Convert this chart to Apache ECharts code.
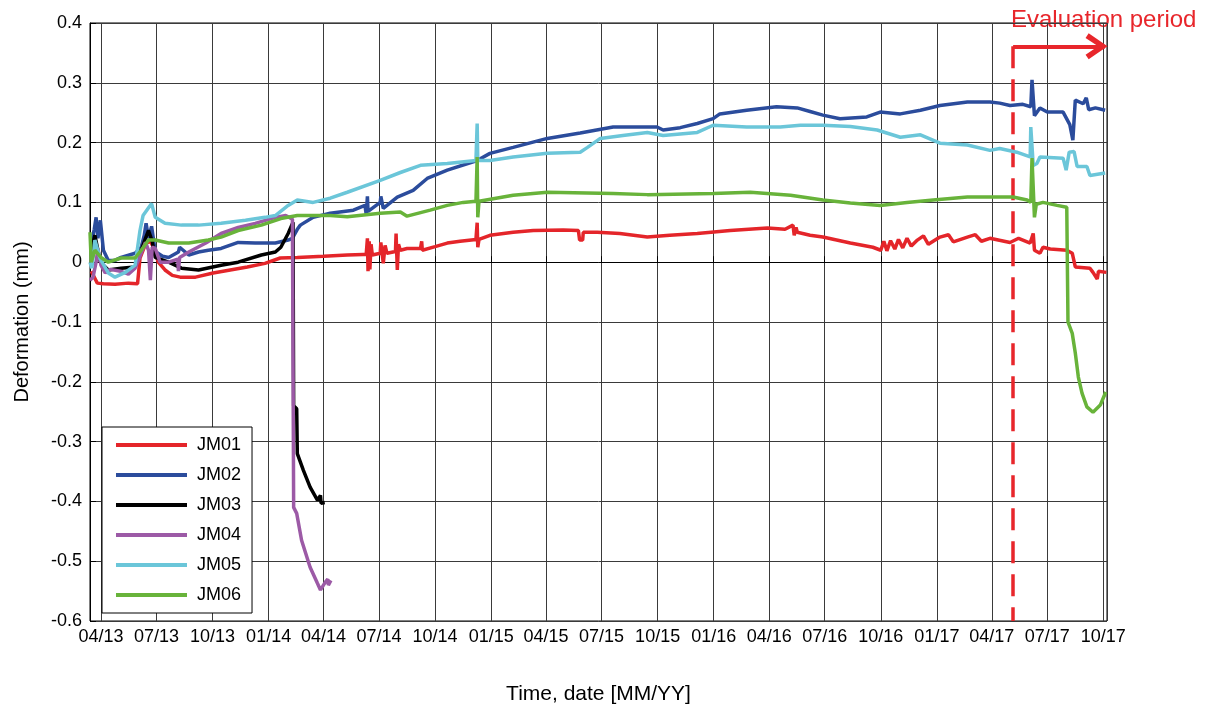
<!DOCTYPE html>
<html>
<head>
<meta charset="utf-8">
<script src="https://cdn.jsdelivr.net/npm/echarts@6/dist/echarts.min.js"></script>
<style>
  html, body { margin: 0; padding: 0; background: #ffffff; }
  #chart { width: 1205px; height: 711px; }
</style>
</head>
<body>
<div id="chart"></div>
<script>
// Joint meter readings, deformation in mm, [date, value]
const seriesNames = ['JM01', 'JM02', 'JM03', 'JM04', 'JM05', 'JM06'];
const seriesColors = ['#e4252a', '#2b4c9c', '#000000', '#9c5aa6', '#6bc6d9', '#68b33a'];

const JM01 = [
  ['2013-03-16', -0.015], ['2013-03-26', -0.035], ['2013-04-05', -0.036], ['2013-04-24', -0.037],
  ['2013-05-16', -0.035], ['2013-05-31', -0.036], ['2013-06-04', 0.007], ['2013-06-09', 0.02],
  ['2013-06-14', 0.032], ['2013-06-21', 0.035], ['2013-06-26', 0.025], ['2013-07-04', 0.0],
  ['2013-07-15', -0.013], ['2013-07-27', -0.022], ['2013-08-09', -0.025], ['2013-09-03', -0.025],
  ['2013-10-02', -0.018], ['2013-10-30', -0.013], ['2013-11-27', -0.008], ['2013-12-26', -0.002],
  ['2014-01-20', 0.007], ['2014-02-17', 0.008], ['2014-04-01', 0.01], ['2014-05-10', 0.012],
  ['2014-06-05', 0.013], ['2014-06-10', 0.013], ['2014-06-12', 0.04], ['2014-06-13', -0.015],
  ['2014-06-15', 0.035], ['2014-06-16', -0.012], ['2014-06-18', 0.03], ['2014-06-20', 0.012],
  ['2014-07-03', 0.015], ['2014-07-04', 0.033], ['2014-07-08', -0.002], ['2014-07-11', 0.028],
  ['2014-07-14', 0.015], ['2014-07-28', 0.018], ['2014-07-29', 0.048], ['2014-07-31', -0.013],
  ['2014-08-02', 0.03], ['2014-08-05', 0.02], ['2014-08-16', 0.023], ['2014-09-07', 0.023],
  ['2014-09-09', 0.035], ['2014-09-10', 0.02], ['2014-10-01', 0.026], ['2014-10-21', 0.032],
  ['2014-11-11', 0.035], ['2014-12-07', 0.038], ['2014-12-09', 0.066], ['2014-12-10', 0.025],
  ['2014-12-12', 0.038], ['2014-12-30', 0.045], ['2015-02-06', 0.05], ['2015-03-11', 0.053],
  ['2015-04-29', 0.054], ['2015-05-24', 0.053], ['2015-05-26', 0.037], ['2015-05-31', 0.037],
  ['2015-06-01', 0.05], ['2015-06-24', 0.05], ['2015-07-31', 0.048], ['2015-09-14', 0.042],
  ['2015-10-21', 0.045], ['2015-12-05', 0.048], ['2016-01-28', 0.053], ['2016-03-29', 0.057],
  ['2016-04-27', 0.055], ['2016-05-10', 0.062], ['2016-05-12', 0.045], ['2016-05-15', 0.058],
  ['2016-05-17', 0.05], ['2016-06-07', 0.045], ['2016-06-28', 0.042], ['2016-08-12', 0.032],
  ['2016-09-18', 0.025], ['2016-10-01', 0.02], ['2016-10-06', 0.035], ['2016-10-11', 0.019],
  ['2016-10-17', 0.036], ['2016-10-24', 0.022], ['2016-10-30', 0.038], ['2016-11-06', 0.024],
  ['2016-11-13', 0.04], ['2016-11-20', 0.027], ['2016-11-30', 0.037], ['2016-12-10', 0.044],
  ['2016-12-18', 0.03], ['2017-01-06', 0.042], ['2017-01-20', 0.046], ['2017-01-28', 0.034],
  ['2017-02-20', 0.042], ['2017-03-05', 0.046], ['2017-03-15', 0.035], ['2017-03-29', 0.04],
  ['2017-05-01', 0.033], ['2017-05-15', 0.04], ['2017-06-03', 0.032], ['2017-06-08', 0.048],
  ['2017-06-10', 0.02], ['2017-06-19', 0.015], ['2017-06-24', 0.025], ['2017-07-06', 0.022],
  ['2017-08-02', 0.02], ['2017-08-11', 0.015], ['2017-08-16', -0.008], ['2017-09-09', -0.01],
  ['2017-09-14', -0.017], ['2017-09-21', -0.028], ['2017-09-23', -0.015], ['2017-10-06', -0.017]
];

const JM02 = [
  ['2013-03-16', 0.03], ['2013-03-21', 0.055], ['2013-03-24', 0.075], ['2013-03-27', 0.04],
  ['2013-03-31', 0.07], ['2013-04-05', 0.02], ['2013-04-13', 0.003], ['2013-04-24', 0.003],
  ['2013-05-04', 0.008], ['2013-05-27', 0.015], ['2013-06-06', 0.025], ['2013-06-11', 0.045],
  ['2013-06-14', 0.065], ['2013-06-18', 0.04], ['2013-06-23', 0.06], ['2013-06-29', 0.018],
  ['2013-07-11', 0.01], ['2013-07-21', 0.008], ['2013-08-06', 0.017], ['2013-08-08', 0.025],
  ['2013-08-23', 0.012], ['2013-09-08', 0.017], ['2013-09-24', 0.02], ['2013-10-15', 0.023],
  ['2013-11-12', 0.033], ['2013-12-10', 0.032], ['2014-01-12', 0.032], ['2014-02-02', 0.037],
  ['2014-02-09', 0.04], ['2014-02-17', 0.055], ['2014-02-22', 0.062], ['2014-03-15', 0.075],
  ['2014-04-12', 0.082], ['2014-05-20', 0.087], ['2014-06-08', 0.095], ['2014-06-10', 0.08],
  ['2014-06-12', 0.11], ['2014-06-13', 0.085], ['2014-07-03', 0.1], ['2014-07-04', 0.11],
  ['2014-07-08', 0.09], ['2014-07-31', 0.109], ['2014-08-26', 0.12], ['2014-09-18', 0.14],
  ['2014-10-21', 0.154], ['2014-12-09', 0.17], ['2014-12-30', 0.182], ['2015-02-06', 0.192],
  ['2015-04-03', 0.207], ['2015-05-27', 0.216], ['2015-07-20', 0.226], ['2015-09-03', 0.226],
  ['2015-09-30', 0.226], ['2015-10-10', 0.221], ['2015-11-07', 0.225], ['2015-12-05', 0.232],
  ['2015-12-31', 0.24], ['2016-01-11', 0.248], ['2016-02-24', 0.254], ['2016-04-13', 0.26],
  ['2016-05-17', 0.258], ['2016-06-07', 0.252], ['2016-06-28', 0.246], ['2016-07-26', 0.24],
  ['2016-09-08', 0.243], ['2016-09-30', 0.251], ['2016-11-02', 0.248], ['2016-12-05', 0.254],
  ['2017-01-06', 0.262], ['2017-02-20', 0.268], ['2017-03-29', 0.268], ['2017-04-14', 0.266],
  ['2017-05-01', 0.262], ['2017-05-22', 0.264], ['2017-06-04', 0.26], ['2017-06-06', 0.305],
  ['2017-06-10', 0.245], ['2017-06-19', 0.258], ['2017-07-01', 0.251], ['2017-07-27', 0.251],
  ['2017-08-07', 0.23], ['2017-08-12', 0.204], ['2017-08-16', 0.271], ['2017-08-29', 0.265],
  ['2017-09-03', 0.275], ['2017-09-07', 0.255], ['2017-09-18', 0.258], ['2017-10-04', 0.254]
];

const JM03 = [
  ['2013-03-16', 0.02], ['2013-03-22', 0.045], ['2013-03-31', 0.0], ['2013-04-13', -0.013],
  ['2013-05-04', -0.01], ['2013-05-27', -0.008], ['2013-06-06', 0.02], ['2013-06-13', 0.04],
  ['2013-06-18', 0.053], ['2013-06-24', 0.035], ['2013-06-29', 0.008], ['2013-07-21', 0.0],
  ['2013-08-11', -0.01], ['2013-09-08', -0.013], ['2013-10-15', -0.005], ['2013-11-12', 0.0],
  ['2013-12-20', 0.012], ['2014-01-12', 0.017], ['2014-01-21', 0.025], ['2014-02-02', 0.048],
  ['2014-02-10', 0.067], ['2014-02-11', -0.24], ['2014-02-16', -0.245], ['2014-02-17', -0.32],
  ['2014-02-27', -0.348], ['2014-03-10', -0.376], ['2014-03-22', -0.398], ['2014-03-27', -0.39],
  ['2014-03-28', -0.403], ['2014-04-03', -0.402]
];

const JM04 = [
  ['2013-03-14', -0.03], ['2013-03-19', -0.025], ['2013-03-24', 0.0], ['2013-03-27', 0.023],
  ['2013-04-01', -0.005], ['2013-04-08', -0.018], ['2013-04-16', -0.012], ['2013-05-03', -0.015],
  ['2013-05-16', -0.02], ['2013-05-27', -0.01], ['2013-06-04', 0.01], ['2013-06-13', 0.033],
  ['2013-06-18', 0.02], ['2013-06-21', -0.03], ['2013-06-24', 0.025], ['2013-06-29', 0.023],
  ['2013-07-07', 0.0], ['2013-07-21', 0.0], ['2013-08-05', 0.005], ['2013-08-06', -0.015],
  ['2013-08-08', 0.008], ['2013-08-23', 0.017], ['2013-09-20', 0.032], ['2013-10-15', 0.048],
  ['2013-11-12', 0.058], ['2013-12-10', 0.065], ['2014-01-12', 0.075], ['2014-01-29', 0.078],
  ['2014-02-09', 0.072], ['2014-02-10', 0.07], ['2014-02-11', -0.41], ['2014-02-16', -0.42],
  ['2014-02-24', -0.465], ['2014-03-10', -0.51], ['2014-03-22', -0.537], ['2014-03-27', -0.548],
  ['2014-03-30', -0.545], ['2014-04-04', -0.535], ['2014-04-08', -0.53], ['2014-04-09', -0.54],
  ['2014-04-13', -0.532]
];

const JM05 = [
  ['2013-03-14', 0.0], ['2013-03-17', -0.01], ['2013-03-22', 0.037], ['2013-03-31', 0.005],
  ['2013-04-13', -0.018], ['2013-04-24', -0.025], ['2013-05-11', -0.017], ['2013-05-27', -0.005],
  ['2013-06-04', 0.053], ['2013-06-09', 0.078], ['2013-06-16', 0.088], ['2013-06-23', 0.098],
  ['2013-06-29', 0.075], ['2013-07-15', 0.065], ['2013-08-11', 0.062], ['2013-09-08', 0.062],
  ['2013-10-15', 0.065], ['2013-11-24', 0.07], ['2013-12-26', 0.075], ['2014-01-12', 0.078],
  ['2014-02-02', 0.095], ['2014-02-17', 0.104], ['2014-03-15', 0.1], ['2014-04-12', 0.107],
  ['2014-05-10', 0.117], ['2014-07-03', 0.137], ['2014-08-05', 0.15], ['2014-09-07', 0.162],
  ['2014-10-21', 0.165], ['2014-12-07', 0.17], ['2014-12-09', 0.232], ['2014-12-10', 0.17],
  ['2014-12-30', 0.17], ['2015-02-06', 0.176], ['2015-04-03', 0.182], ['2015-05-27', 0.184],
  ['2015-06-08', 0.192], ['2015-06-29', 0.207], ['2015-08-05', 0.212], ['2015-09-14', 0.217],
  ['2015-10-10', 0.212], ['2015-12-05', 0.217], ['2015-12-31', 0.229], ['2016-02-24', 0.226],
  ['2016-04-19', 0.226], ['2016-05-22', 0.229], ['2016-06-28', 0.229], ['2016-08-12', 0.227],
  ['2016-09-25', 0.221], ['2016-11-02', 0.209], ['2016-12-05', 0.213], ['2017-01-06', 0.199],
  ['2017-02-20', 0.196], ['2017-03-29', 0.187], ['2017-04-14', 0.19], ['2017-05-12', 0.184],
  ['2017-06-03', 0.176], ['2017-06-04', 0.226], ['2017-06-08', 0.162], ['2017-06-14', 0.165],
  ['2017-06-19', 0.176], ['2017-07-27', 0.174], ['2017-08-01', 0.154], ['2017-08-06', 0.184],
  ['2017-08-14', 0.185], ['2017-08-19', 0.16], ['2017-09-04', 0.16], ['2017-09-09', 0.145],
  ['2017-10-04', 0.149]
];

const JM06 = [
  ['2013-03-14', 0.05], ['2013-03-16', 0.0], ['2013-03-22', 0.02], ['2013-04-01', 0.008],
  ['2013-04-13', 0.0], ['2013-05-04', 0.007], ['2013-05-27', 0.007], ['2013-06-06', 0.02],
  ['2013-06-18', 0.037], ['2013-06-29', 0.037], ['2013-07-21', 0.032], ['2013-08-23', 0.032],
  ['2013-09-24', 0.037], ['2013-10-15', 0.042], ['2013-11-12', 0.053], ['2013-12-20', 0.062],
  ['2014-01-21', 0.073], ['2014-02-17', 0.078], ['2014-04-12', 0.078], ['2014-05-10', 0.076],
  ['2014-07-03', 0.082], ['2014-08-05', 0.084], ['2014-08-16', 0.077], ['2014-09-23', 0.087],
  ['2014-10-21', 0.095], ['2014-11-16', 0.1], ['2014-12-07', 0.102], ['2014-12-09', 0.176],
  ['2014-12-10', 0.075], ['2014-12-12', 0.102], ['2015-02-06', 0.112], ['2015-04-03', 0.117],
  ['2015-07-20', 0.115], ['2015-09-14', 0.113], ['2015-12-31', 0.115], ['2016-03-01', 0.117],
  ['2016-05-06', 0.112], ['2016-06-28', 0.104], ['2016-08-12', 0.099], ['2016-09-30', 0.095],
  ['2016-11-13', 0.1], ['2016-12-26', 0.104], ['2017-02-20', 0.109], ['2017-05-06', 0.109],
  ['2017-05-29', 0.104], ['2017-06-04', 0.1], ['2017-06-06', 0.174], ['2017-06-10', 0.075],
  ['2017-06-13', 0.097], ['2017-06-24', 0.1], ['2017-07-17', 0.095], ['2017-08-02', 0.092],
  ['2017-08-04', -0.1], ['2017-08-11', -0.119], ['2017-08-16', -0.152], ['2017-08-21', -0.192],
  ['2017-08-27', -0.219], ['2017-09-04', -0.242], ['2017-09-14', -0.251], ['2017-09-26', -0.239],
  ['2017-10-05', -0.217]
];

// Axis range and evaluation window
const X_MIN = '2013-03-14';
const X_MAX = '2017-10-07';
const Y_TICKS = [-0.6, -0.5, -0.4, -0.3, -0.2, -0.1, 0, 0.1, 0.2, 0.3, 0.4];
const EVAL_START = '2017-05-06';
const EVAL_END = '2017-10-03';
const EVAL_LEVEL = 0.361;

const DAY = 86400000;
const toTime = s => { const p = s.split('-'); return new Date(+p[0], +p[1] - 1, +p[2]).getTime(); };
const pad = n => (n < 10 ? '0' : '') + n;
const FONT = '"Liberation Sans", Arial, sans-serif';
const RED = '#e8262b';

const allSeries = [JM01, JM02, JM03, JM04, JM05, JM06].map((arr, i) => ({
  name: seriesNames[i],
  type: 'line',
  showSymbol: false,
  symbol: 'none',
  data: arr.map(([d, v]) => [toTime(d), v]),
  lineStyle: { width: 3.5, color: seriesColors[i] },
  itemStyle: { color: seriesColors[i] },
  emphasis: { disabled: true },
  z: 2 + i
}));

// Evaluation period marker: dashed start line and arrow
allSeries.push({
  name: 'evaluation',
  type: 'line',
  data: [],
  silent: true,
  z: 10,
  markLine: {
    silent: true,
    animation: false,
    label: { show: false },
    emphasis: { disabled: true },
    data: [
      [
        { coord: [toTime(EVAL_START), EVAL_LEVEL], symbol: 'none', lineStyle: { type: [22, 11], width: 3.5, color: RED } },
        { coord: [toTime(EVAL_START), Y_TICKS[0]], symbol: 'none' }
      ],
      [
        { coord: [toTime(EVAL_START), EVAL_LEVEL], symbol: 'none', lineStyle: { type: 'solid', width: 4, color: RED } },
        { coord: [toTime(EVAL_END), EVAL_LEVEL], symbol: 'path://M7,0 L14,11 L11.5,12.8 L7,5.5 L2.5,12.8 L0,11 Z', symbolSize: [26, 22], symbolOffset: [0, 8] }
      ]
    ]
  }
});

const chart = echarts.init(document.getElementById('chart'), null, { renderer: 'canvas' });
chart.setOption({
  animation: false,
  backgroundColor: '#ffffff',
  textStyle: { fontFamily: FONT },
  grid: {
    left: 90, right: 98, top: 23, bottom: 90,
    show: true, borderColor: '#000000', borderWidth: 1, backgroundColor: '#ffffff'
  },
  legend: {
    data: seriesNames,
    orient: 'vertical',
    left: 102,
    top: 427,
    icon: 'rect',
    itemWidth: 71,
    itemHeight: 4,
    itemGap: 12,
    padding: [9, 11, 9, 14],
    backgroundColor: '#ffffff',
    borderColor: '#000000',
    borderWidth: 1,
    borderRadius: 0,
    selectedMode: false,
    textStyle: { fontFamily: FONT, fontSize: 18, color: '#000000', lineHeight: 17, padding: [0, 0, 0, 5] }
  },
  graphic: [{
    type: 'text',
    left: 1011,
    top: 8,
    style: { text: 'Evaluation period', fontFamily: FONT, fontSize: 24, fill: RED }
  }],
  xAxis: {
    type: 'time',
    min: toTime(X_MIN),
    max: toTime(X_MAX),
    splitNumber: 18,
    minInterval: 92 * DAY,
    maxInterval: 100 * DAY,
    name: 'Time, date [MM/YY]',
    nameLocation: 'middle',
    nameGap: 63,
    nameTextStyle: { fontFamily: FONT, fontSize: 21, color: '#000000' },
    axisLine: { show: true, lineStyle: { color: '#000000', width: 1 } },
    axisTick: { show: true, inside: true, length: 6, lineStyle: { color: '#000000' } },
    axisLabel: {
      fontFamily: FONT, fontSize: 18, color: '#000000', margin: 7, fontWeight: 'normal',
      formatter: v => { const d = new Date(v); return pad(d.getMonth() + 1) + '/' + pad(d.getFullYear() % 100); }
    },
    splitLine: { show: true, lineStyle: { color: '#3a3a3a', width: 1 } },
    minorTick: { show: false }
  },
  yAxis: {
    type: 'value',
    min: Y_TICKS[0],
    max: Y_TICKS[Y_TICKS.length - 1],
    interval: 0.1,
    name: 'Deformation (mm)',
    nameLocation: 'middle',
    nameGap: 58,
    nameTextStyle: { fontFamily: FONT, fontSize: 20, color: '#000000' },
    axisLine: { show: true, lineStyle: { color: '#000000', width: 1 } },
    axisTick: { show: true, inside: true, length: 6, lineStyle: { color: '#000000' } },
    axisLabel: {
      fontFamily: FONT, fontSize: 18, color: '#000000', margin: 8,
      formatter: v => (Math.abs(v) < 1e-9 ? '0' : v.toFixed(1))
    },
    splitLine: { show: true, lineStyle: { color: '#3a3a3a', width: 1 } }
  },
  series: allSeries
});
</script>
</body>
</html>
